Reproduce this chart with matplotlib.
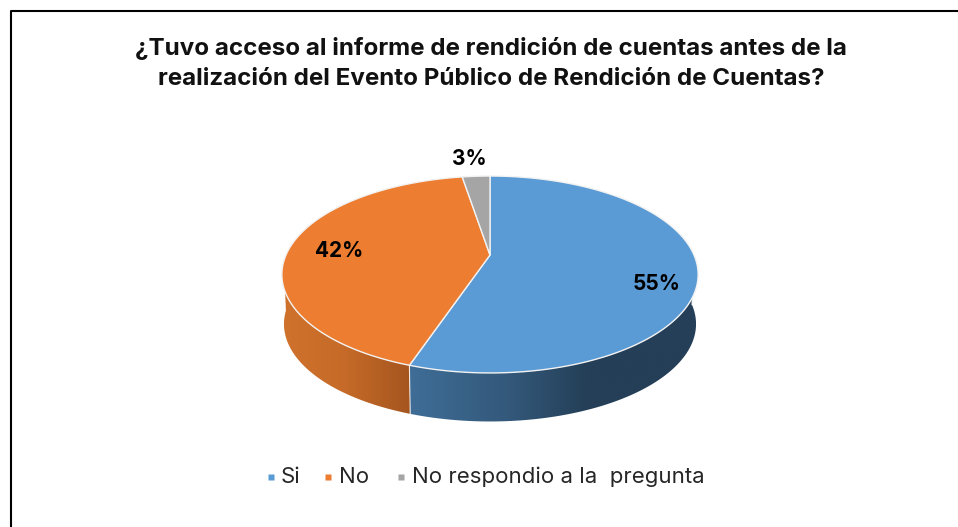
import numpy as np
import matplotlib
matplotlib.use("Agg")
import matplotlib.pyplot as plt
from matplotlib.colors import LinearSegmentedColormap
from matplotlib.patches import Polygon

title_lines = ["¿Tuvo acceso al informe de rendición de cuentas antes de la",
               "realización del Evento Público de Rendición de Cuentas?"]
categories = ["Si", "No", "No respondio a la  pregunta"]
values = [55.2, 42.2, 2.6]
colors = ["#5b9bd5", "#ed7d31", "#a5a5a5"]

# pie geometry in image pixels, perspective comes from k
cx, cy = 490, 255
rx, ry = 204, 94.6
k = 0.198
shrink, depth = 0.99, 49.7


def project(frac, bottom=False):
    # frac runs clockwise from 12 o'clock
    t = 2 * np.pi * np.asarray(frac)
    u, v = np.sin(t), np.cos(t)
    w = 1 + k * v
    x, y = rx * u / w, -ry * v / w
    if bottom:
        return cx + shrink * x, cy + depth + shrink * y
    return cx + x, cy + y


fig = plt.figure(figsize=(9.58, 5.27), dpi=100)
ax = fig.add_axes([0, 0, 1, 1])
ax.set_xlim(0, 958)
ax.set_ylim(527, 0)
ax.axis("off")

# frame
ax.plot([11, 11, 958], [527, 11, 11], color="black", lw=1.5)

edges = np.cumsum([0] + values) / sum(values)

# sides, gradient clipped to the visible wall
side_maps = [LinearSegmentedColormap.from_list("b", [(0, "#3f6d96"), (0.35, "#33587a"),
                                                     (0.62, "#243f57"), (1, "#243f57")]),
             LinearSegmentedColormap.from_list("o", ["#cf722c", "#c56a28", "#a5551f"])]
side_ranges = [(410, 696), (283, 410)]
for i in range(2):
    f = np.linspace(max(edges[i], 0.25), edges[i + 1], 200)
    if i == 1:
        f = np.linspace(edges[i], 0.74, 200)
    xt, yt = project(f)
    xb, yb = project(f, bottom=True)
    wall = Polygon(np.column_stack([np.r_[xt, xb[::-1]], np.r_[yt, yb[::-1]]]),
                   closed=True, transform=ax.transData, fc="none", ec="none")
    ax.add_patch(wall)
    x0, x1 = side_ranges[i]
    im = ax.imshow(np.linspace(0, 1, 256)[None, :], cmap=side_maps[i], aspect="auto",
                   extent=[x0, x1, 430, 270], zorder=1)
    im.set_clip_path(wall)
    ax.plot(xb[:1].tolist() + xt[:1].tolist(), yb[:1].tolist() + yt[:1].tolist(),
            color="white", lw=0.8, alpha=0.8, zorder=2)

ax.set_xlim(0, 958)
ax.set_ylim(527, 0)

# top face
for i in range(len(values)):
    f = np.linspace(edges[i], edges[i + 1], 200)
    x, y = project(f)
    ax.add_patch(Polygon(np.column_stack([np.r_[cx, x], np.r_[cy, y]]), closed=True,
                         fc=colors[i], ec="#f2f2f2", lw=1.0, zorder=3))

# data labels
label_pos = [(657, 284), (339, 251), (469, 159)]
for v, (lx, ly) in zip(values, label_pos):
    ax.text(lx, ly, f"{round(v)}%", ha="center", va="center", fontsize=15,
            fontweight="bold", family="Inter", color="black", zorder=4)

# title
for line, ly in zip(title_lines, [48, 79]):
    ax.text(491, ly, line, ha="center", va="center", fontsize=17.4,
            fontweight="bold", family="Inter", color="#111111")

# legend
legend_x = [271, 328, 401]
text_x = [281, 339, 412]
for name, c, mx, tx in zip(categories, colors, legend_x, text_x):
    ax.plot([mx], [477], marker="s", ms=4.6, color=c, mec="none", ls="none")
    ax.text(tx, 477, name, ha="left", va="center", fontsize=16,
            family="Inter", color="#262626")

fig.savefig("out.png", dpi=100)
